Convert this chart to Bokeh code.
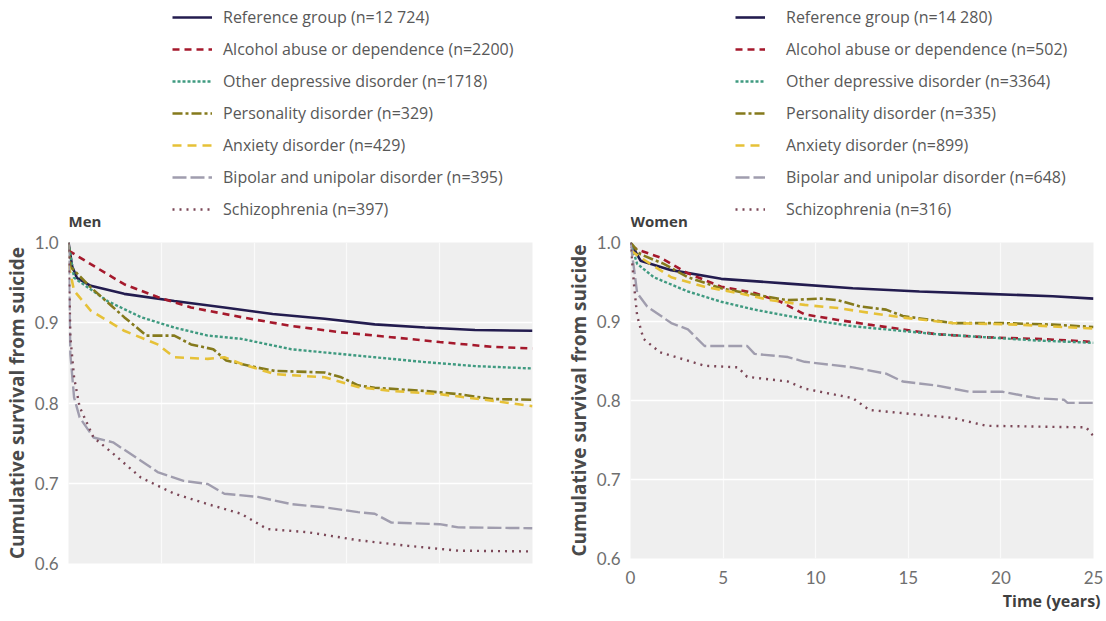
from bokeh.plotting import figure
from bokeh.models import (Legend, LegendItem, FixedTicker, NumeralTickFormatter,
                          Title, Label, Range1d)
from bokeh.layouts import row, column
from bokeh.embed import file_html
from bokeh.resources import INLINE

# ---------------- data ----------------
time_ticks = [0, 5, 10, 15, 20, 25]
surv_ticks = [0.6, 0.7, 0.8, 0.9, 1.0]

men_labels = [
    "Reference group (n=12 724)",
    "Alcohol abuse or dependence (n=2200)",
    "Other depressive disorder (n=1718)",
    "Personality disorder (n=329)",
    "Anxiety disorder (n=429)",
    "Bipolar and unipolar disorder (n=395)",
    "Schizophrenia (n=397)",
]
women_labels = [
    "Reference group (n=14 280)",
    "Alcohol abuse or dependence (n=502)",
    "Other depressive disorder (n=3364)",
    "Personality disorder (n=335)",
    "Anxiety disorder (n=899)",
    "Bipolar and unipolar disorder (n=648)",
    "Schizophrenia (n=316)",
]

# Men
men_ref_t = [0, 0.2, 0.45, 1.2, 3, 5.7, 8.4, 11, 13.8, 16.5, 19.2, 21.9, 25]
men_ref_v = [1.0, 0.97, 0.956, 0.946, 0.936, 0.927, 0.919, 0.911, 0.905, 0.898, 0.894, 0.891, 0.890]
men_alc_t = [0, 1.2, 3, 4.8, 6.6, 9.3, 12, 14.7, 17.4, 20, 22.8, 25]
men_alc_v = [0.99, 0.973, 0.948, 0.932, 0.919, 0.907, 0.896, 0.888, 0.882, 0.876, 0.870, 0.868]
men_dep_t = [0, 0.3, 2.1, 3.9, 5.7, 7.5, 9.3, 12, 14.7, 16.5, 19.2, 21.9, 25]
men_dep_v = [1.0, 0.956, 0.927, 0.907, 0.894, 0.884, 0.880, 0.867, 0.861, 0.857, 0.851, 0.846, 0.843]
men_per_t = [0, 0.1, 1.2, 3, 4.2, 5.7, 6.6, 7.8, 8.5, 10.2, 11.1, 13.8, 14.7, 15.6, 16.5, 19.2, 21, 22.8, 25]
men_per_v = [1.0, 0.97, 0.944, 0.907, 0.884, 0.884, 0.873, 0.867, 0.853, 0.844, 0.840, 0.838, 0.832, 0.822, 0.819, 0.815, 0.811, 0.805, 0.804]
men_anx_t = [0, 0.3, 1.2, 3, 4.8, 5.7, 7.5, 8.4, 9.3, 11.1, 13.8, 15.6, 17.4, 20, 22.8, 25]
men_anx_v = [0.973, 0.94, 0.915, 0.89, 0.873, 0.857, 0.855, 0.857, 0.849, 0.836, 0.832, 0.820, 0.815, 0.811, 0.803, 0.796]
men_bip_t = [0, 0.1, 0.3, 0.6, 1.35, 2.4, 3.9, 4.8, 6.2, 7.5, 8.4, 10.2, 12, 13.8, 15.6, 16.5, 17.4, 20, 21, 25]
men_bip_v = [1.0, 0.861, 0.807, 0.782, 0.757, 0.751, 0.728, 0.714, 0.703, 0.699, 0.687, 0.683, 0.674, 0.670, 0.664, 0.662, 0.651, 0.649, 0.645, 0.644]
men_sch_t = [0, 0.1, 0.3, 0.6, 1.35, 2.4, 3.9, 5.7, 7.5, 9.3, 10.7, 12.9, 15.6, 18.3, 21, 25]
men_sch_v = [1.0, 0.882, 0.832, 0.795, 0.757, 0.737, 0.707, 0.687, 0.674, 0.662, 0.643, 0.639, 0.629, 0.622, 0.616, 0.615]

# Women
wom_ref_t = [0, 0.54, 2.2, 4.9, 8.5, 12, 15.6, 19.2, 22.8, 25]
wom_ref_v = [1.0, 0.977, 0.965, 0.954, 0.948, 0.942, 0.938, 0.935, 0.932, 0.929]
wom_alc_t = [0, 0.5, 1.6, 3.1, 4.9, 6.7, 8.1, 9.4, 11.2, 12.9, 14.7, 16.5, 19.2, 21.9, 23.7, 25]
wom_alc_v = [0.995, 0.99, 0.981, 0.961, 0.944, 0.936, 0.925, 0.909, 0.902, 0.896, 0.890, 0.884, 0.880, 0.878, 0.876, 0.874]
wom_dep_t = [0, 0.36, 1.26, 3.1, 4.9, 6.7, 8.5, 10.3, 12, 13.8, 16.5, 19.2, 21.9, 25]
wom_dep_v = [1.0, 0.973, 0.956, 0.938, 0.925, 0.915, 0.907, 0.900, 0.894, 0.890, 0.884, 0.880, 0.876, 0.873]
wom_per_t = [0, 0.54, 1.8, 3.1, 4.9, 6.7, 8.5, 10.3, 11.2, 12.4, 13.8, 14.7, 17.4, 20.1, 22.8, 25]
wom_per_v = [1.0, 0.985, 0.973, 0.956, 0.942, 0.934, 0.927, 0.929, 0.927, 0.919, 0.915, 0.907, 0.898, 0.898, 0.896, 0.893]
wom_anx_t = [0, 0.54, 2.2, 4, 5.8, 7.6, 9.4, 11.2, 12.9, 14.7, 17.4, 21, 25]
wom_anx_v = [0.99, 0.981, 0.956, 0.944, 0.936, 0.927, 0.921, 0.917, 0.911, 0.905, 0.898, 0.896, 0.891]
wom_bip_t = [0, 0.2, 0.36, 0.9, 2.2, 3.1, 4, 6.3, 6.7, 8.5, 9.4, 12, 13.8, 14.7, 16.5, 18.3, 20.1, 21.9, 23.4, 23.6, 25]
wom_bip_v = [1.0, 0.965, 0.936, 0.919, 0.898, 0.890, 0.869, 0.869, 0.859, 0.855, 0.849, 0.842, 0.834, 0.824, 0.819, 0.811, 0.811, 0.803, 0.801, 0.797, 0.797]
wom_sch_t = [0, 0.2, 0.36, 0.7, 1.6, 4, 5.8, 6.3, 8.5, 9.4, 12, 12.9, 15.6, 17.4, 19.2, 24.6, 25]
wom_sch_v = [1.0, 0.944, 0.907, 0.878, 0.861, 0.844, 0.842, 0.830, 0.824, 0.815, 0.803, 0.788, 0.782, 0.778, 0.768, 0.766, 0.755]

men_series = [(men_ref_t, men_ref_v), (men_alc_t, men_alc_v), (men_dep_t, men_dep_v),
              (men_per_t, men_per_v), (men_anx_t, men_anx_v), (men_bip_t, men_bip_v),
              (men_sch_t, men_sch_v)]
wom_series = [(wom_ref_t, wom_ref_v), (wom_alc_t, wom_alc_v), (wom_dep_t, wom_dep_v),
              (wom_per_t, wom_per_v), (wom_anx_t, wom_anx_v), (wom_bip_t, wom_bip_v),
              (wom_sch_t, wom_sch_v)]

# ---------------- styles ----------------
STYLES = [
    dict(line_color="#231c4f", line_dash="solid", line_width=2.6),
    dict(line_color="#a5192c", line_dash="7 5", line_width=2.6),
    dict(line_color="#3f9a80", line_dash="3 2", line_width=2.4),
    dict(line_color="#857a1c", line_dash="10 3 3 3", line_width=2.6),
    dict(line_color="#e6c137", line_dash="9 6", line_width=2.6),
    dict(line_color="#a09dae", line_dash="14 4", line_width=2.4),
    dict(line_color="#7b4757", line_dash="2 5", line_width=2.4),
]

TICK_FONT = "Lato"
LEG_FONT = "Open Sans"
TICK_COLOR = "#6f6f6f"
LEG_H = 230
PLOT_H = 383


def make_legend_fig(series, labels, title, width, b_left, b_right, leg_x, glyph_w, standoff):
    # legend strip above each panel; the series lie outside its (empty) view
    f = figure(width=width, height=LEG_H, x_range=Range1d(0, 25), y_range=Range1d(2, 3),
               x_axis_type=None, y_axis_type=None, output_backend="svg",
               toolbar_location=None, min_border=0,
               min_border_left=b_left, min_border_right=b_right,
               outline_line_color=None,
               background_fill_color="white", border_fill_color="white")
    f.xgrid.visible = False
    f.ygrid.visible = False
    items = []
    for (t, v), lab, st in zip(series, labels, STYLES):
        r = f.line(t, v, **st)
        items.append(LegendItem(label=lab, renderers=[r]))
    leg = Legend(items=items, location=(leg_x, 10), orientation="vertical",
                 glyph_width=glyph_w, glyph_height=20, label_height=20,
                 spacing=10, padding=0, margin=0, label_standoff=standoff,
                 border_line_color=None, background_fill_alpha=0,
                 label_text_font=LEG_FONT, label_text_font_size="16px",
                 label_text_color="#585858")
    f.add_layout(leg)
    f.add_layout(Label(x=0, y=0, x_units="screen", y_units="screen", text=title,
                       text_align="left", text_baseline="bottom",
                       text_font="Open Sans", text_font_size="15px",
                       text_font_style="bold", text_color="#3f3f3f"))
    return f


def make_panel(series, width, b_left, b_right, show_x):
    p = figure(width=width, height=PLOT_H, x_range=Range1d(0, 25), y_range=Range1d(0.6, 1.0),
               output_backend="svg", toolbar_location=None,
               min_border_left=b_left, min_border_right=b_right,
               min_border_top=12, min_border_bottom=50,
               background_fill_color="#efefef", border_fill_color="white",
               outline_line_color=None)

    p.xaxis.ticker = FixedTicker(ticks=time_ticks)
    p.yaxis.ticker = FixedTicker(ticks=surv_ticks)
    p.yaxis.formatter = NumeralTickFormatter(format="0.0")
    for ax in (p.xaxis[0], p.yaxis[0]):
        ax.axis_line_color = None
        ax.major_tick_line_color = None
        ax.minor_tick_line_color = None
        ax.major_label_text_font = TICK_FONT
        ax.major_label_text_font_size = "17px"
        ax.major_label_text_color = TICK_COLOR
    p.yaxis.major_label_standoff = 4
    p.xaxis.major_label_standoff = 6
    p.yaxis.axis_label = "Cumulative survival from suicide"
    p.yaxis.axis_label_text_font = "Open Sans"
    p.yaxis.axis_label_text_font_size = "19px"
    p.yaxis.axis_label_text_font_style = "bold"
    p.yaxis.axis_label_text_color = "#4a4a4a"
    p.yaxis.axis_label_standoff = 2
    if not show_x:
        p.xaxis.visible = False

    p.ygrid.grid_line_color = "white"
    p.ygrid.grid_line_width = 1.6
    p.xgrid.grid_line_color = "white"
    p.xgrid.grid_line_alpha = 0.7
    p.xgrid.grid_line_width = 1.2

    for (t, v), st in zip(series, STYLES):
        p.line(t, v, **st)

    if show_x:
        p.add_layout(Title(text="Time (years)", align="right", text_font="Open Sans",
                           text_font_size="16px", text_font_style="bold",
                           text_color="#3f3f3f", standoff=3, offset=-7), "below")
    return p


leg_men = make_legend_fig(men_series, men_labels, "Men", 560, 68, 28, 104, 40, 11)
leg_wom = make_legend_fig(wom_series, women_labels, "Women", 544, 70, 11, 105, 30, 21)
p_men = make_panel(men_series, 560, 68, 28, False)
p_wom = make_panel(wom_series, 544, 70, 11, True)

layout = row(column(leg_men, p_men, spacing=0), column(leg_wom, p_wom, spacing=0), spacing=0)

with open("out.html", "w") as f:
    f.write(file_html(layout, INLINE))
